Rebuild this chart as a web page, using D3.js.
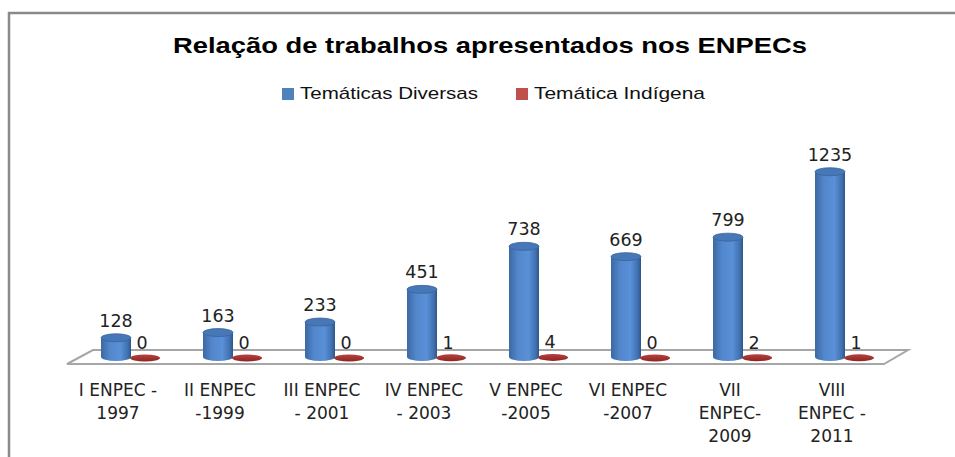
<!DOCTYPE html>
<html lang="pt">
<head>
<meta charset="UTF-8">
<title>Relação de trabalhos apresentados nos ENPECs</title>
<style>
    body { margin: 0; background: #fff; }
    svg { display: block; }
    .title { font-family: "Liberation Sans", Arial, sans-serif; font-weight: bold; font-size: 22px; fill: #000; }
    .legend text { font-family: "Liberation Sans", Arial, sans-serif; font-size: 17px; fill: #111; }
    .val { font-family: "DejaVu Sans", Verdana, sans-serif; font-size: 17.5px; fill: #222; }
    .cat { font-family: "DejaVu Sans", Verdana, sans-serif; font-size: 17px; fill: #222; }
</style>
</head>
<body>
<div id="chart"></div>
<script src="https://d3js.org/d3.v7.min.js"></script>
<script>
// data
const categories = ['I ENPEC - 1997', 'II ENPEC -1999', 'III ENPEC - 2001', 'IV ENPEC - 2003',
                    'V ENPEC -2005', 'VI ENPEC -2007', 'VII ENPEC-2009', 'VIII ENPEC - 2011'];
const catLines = [
    ['I ENPEC -', '1997'], ['II ENPEC', '-1999'], ['III ENPEC', '- 2001'], ['IV ENPEC', '- 2003'],
    ['V ENPEC', '-2005'], ['VI ENPEC', '-2007'], ['VII', 'ENPEC-', '2009'], ['VIII', 'ENPEC -', '2011']
];
const diversas = [128, 163, 233, 451, 738, 669, 799, 1235];
const indigena = [0, 0, 0, 1, 4, 0, 2, 1];
const seriesNames = ['Temáticas Diversas', 'Temática Indígena'];
const seriesColors = ['#4f81bd', '#c0504d'];

const width = 955, height = 457;
const base = 357;

const svg = d3.select('#chart').append('svg')
    .attr('width', width).attr('height', height);

const defs = svg.append('defs');
const gBlue = defs.append('linearGradient').attr('id', 'cylBlue');
[['0%', '#3c68a3'], ['30%', '#5287cc'], ['65%', '#5a90d8'], ['90%', '#3f6fae'], ['100%', '#2e5487']]
    .forEach(s => gBlue.append('stop').attr('offset', s[0]).attr('stop-color', s[1]));
const gRed = defs.append('linearGradient').attr('id', 'discRed').attr('x1', 0).attr('x2', 0).attr('y1', 0).attr('y2', 1);
[['0%', '#b8413d'], ['100%', '#8c2523']]
    .forEach(s => gRed.append('stop').attr('offset', s[0]).attr('stop-color', s[1]));

// frame
svg.append('path')
    .attr('d', `M9,${height} V13 H${width}`)
    .attr('fill', 'none').attr('stroke', '#8a8a8a').attr('stroke-width', 2.5);

// title
svg.append('text').attr('class', 'title')
    .attr('x', 490).attr('y', 53)
    .attr('text-anchor', 'middle')
    .attr('textLength', 634).attr('lengthAdjust', 'spacingAndGlyphs')
    .text('Relação de trabalhos apresentados nos ENPECs');

// legend
const legend = svg.append('g').attr('class', 'legend');
const legendX = [282, 516], legendW = [178, 171];
seriesNames.forEach((name, i) => {
    legend.append('rect').attr('x', legendX[i]).attr('y', 88)
        .attr('width', 12).attr('height', 12).attr('fill', seriesColors[i]);
    legend.append('text').attr('x', legendX[i] + 18).attr('y', 99)
        .attr('textLength', legendW[i]).attr('lengthAdjust', 'spacingAndGlyphs')
        .text(name);
});

// scales
const x = d3.scaleBand().domain(categories).range([65, 881]);
const y = d3.scaleLinear().domain([0, 1400]).range([base, base - 210]);

// floor
const [fx0, fx1] = x.range();
svg.append('path')
    .attr('d', `M${fx0 + 2},${base + 7} L${fx0 + 28},${base - 7} L${fx1 + 27},${base - 7} L${fx1 + 3},${base + 7} Z`)
    .attr('fill', '#fff').attr('stroke', '#a6a6a6').attr('stroke-width', 2);

const cw = 30, ry = 4;
const cx = d => x(d) + x.bandwidth() / 2;

// cylinders
const cyl = svg.append('g').selectAll('g').data(categories).join('g');
cyl.append('path')
    .attr('d', (d, i) => {
        const l = cx(d) - cw / 2, r = cx(d) + cw / 2, t = y(diversas[i]);
        return `M${l},${t} L${l},${base} A${cw / 2},${ry} 0 0 0 ${r},${base} L${r},${t} Z`;
    })
    .attr('fill', 'url(#cylBlue)');
cyl.append('ellipse')
    .attr('cx', d => cx(d)).attr('cy', (d, i) => y(diversas[i]))
    .attr('rx', cw / 2).attr('ry', ry)
    .attr('fill', '#4677b6').attr('stroke', '#3a659e').attr('stroke-width', 0.8);

// red discs
svg.append('g').selectAll('ellipse').data(categories).join('ellipse')
    .attr('cx', d => cx(d) + 29).attr('cy', (d, i) => y(indigena[i]) + 1)
    .attr('rx', 15).attr('ry', 3.5)
    .attr('fill', 'url(#discRed)');

// value labels
svg.append('g').selectAll('text').data(categories).join('text')
    .attr('class', 'val').attr('text-anchor', 'middle')
    .attr('x', d => cx(d)).attr('y', (d, i) => y(diversas[i]) - 11)
    .text((d, i) => diversas[i]);
svg.append('g').selectAll('text').data(categories).join('text')
    .attr('class', 'val').attr('text-anchor', 'middle')
    .attr('x', d => cx(d) + 26).attr('y', (d, i) => y(indigena[i]) - 8)
    .text((d, i) => indigena[i]);

// category labels
const cats = svg.append('g').selectAll('text').data(categories).join('text')
    .attr('class', 'cat').attr('text-anchor', 'middle')
    .attr('x', d => cx(d) + 2).attr('y', 396);
cats.selectAll('tspan').data((d, i) => catLines[i]).join('tspan')
    .attr('x', function () { return this.parentNode.getAttribute('x'); })
    .attr('dy', (d, j) => j === 0 ? 0 : 23)
    .text(d => d);
</script>
</body>
</html>
